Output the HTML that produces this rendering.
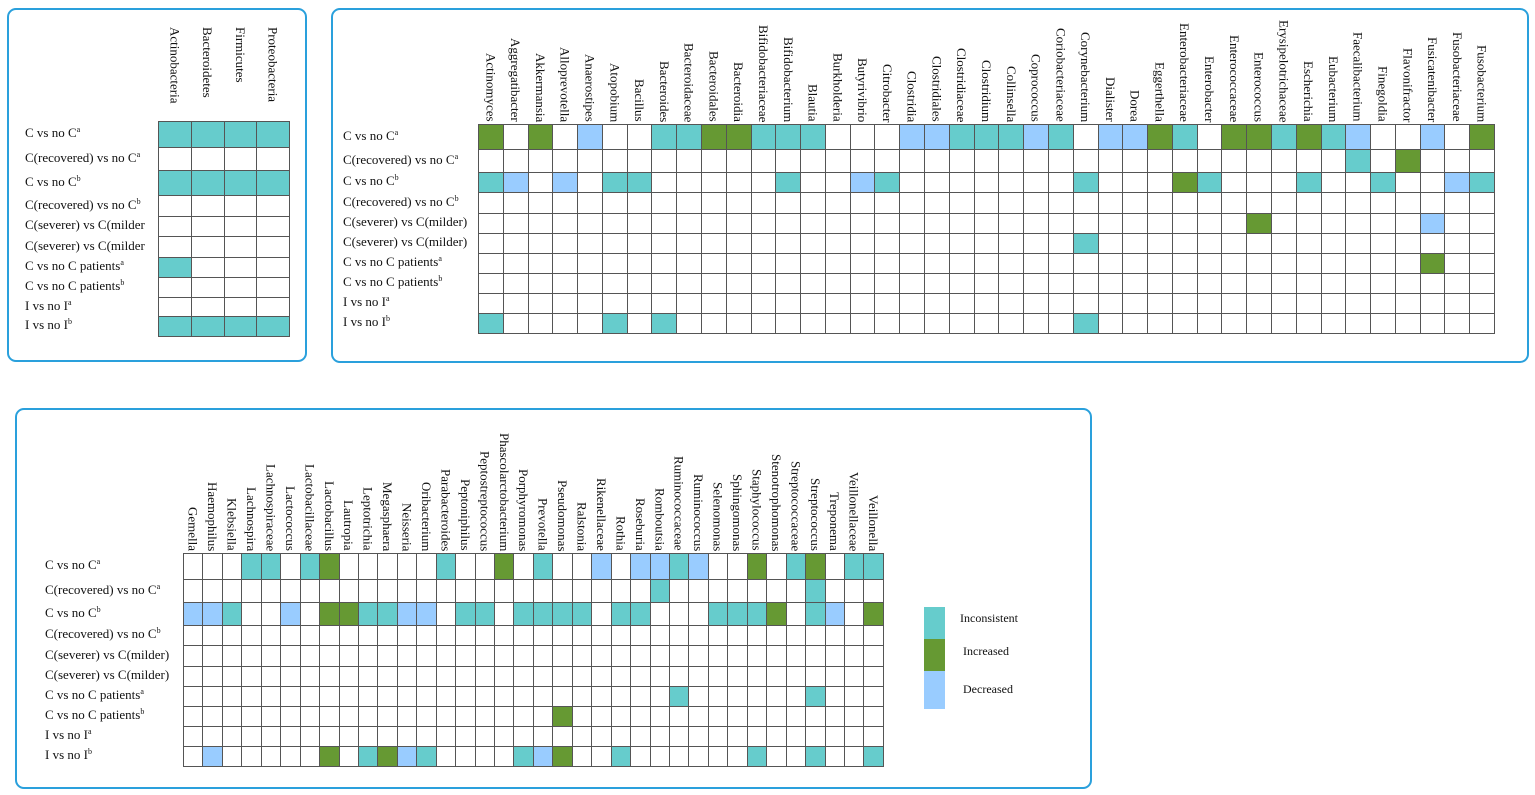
<!DOCTYPE html>
<html><head><meta charset="utf-8">
<style>
html,body{margin:0;padding:0;background:#fff;width:1535px;height:795px;overflow:hidden;position:relative;font-family:"Liberation Serif",serif;color:#111}
.panel{position:absolute;border:2px solid #2aa0dc;border-radius:9px;box-sizing:border-box}
.c{position:absolute;box-sizing:border-box;border:1px solid #555}
.I{background:#66cccc}.G{background:#669933}.D{background:#99ccff}
.rl{position:absolute;font-size:13px;white-space:nowrap;line-height:14px}
.rl sup{font-size:8px;vertical-align:5px;line-height:0}
.cl{position:absolute;font-size:13px;white-space:nowrap;writing-mode:vertical-rl;line-height:14px}
.lg{position:absolute;font-size:12px}
</style></head><body>
<div class="panel" style="left:7px;top:8px;width:300px;height:354px"></div>
<div class="panel" style="left:331px;top:8px;width:1198px;height:355px"></div>
<div class="panel" style="left:15px;top:408px;width:1077px;height:381px"></div>
<div id="root"></div>
<div class="c I" style="left:924px;top:607px;width:21px;height:32px;border:none"></div>
<div class="c G" style="left:924px;top:639px;width:21px;height:32px;border:none"></div>
<div class="c D" style="left:924px;top:671px;width:21px;height:38px;border:none"></div>
<div class="lg" style="left:960px;top:611px">Inconsistent</div>
<div class="lg" style="left:963px;top:644px">Increased</div>
<div class="lg" style="left:963px;top:682px">Decreased</div>
<script>
var root=document.getElementById('root');
function add(h){root.insertAdjacentHTML('beforeend',h);}
var labsA=['C vs no C<sup>a</sup>','C(recovered) vs no C<sup>a</sup>','C vs no C<sup>b</sup>','C(recovered) vs no C<sup>b</sup>','C(severer) vs C(milder','C(severer) vs C(milder','C vs no C patients<sup>a</sup>','C vs no C patients<sup>b</sup>','I vs no I<sup>a</sup>','I vs no I<sup>b</sup>'];
var labsB=labsA.map(function(s,i){return (i==4||i==5)?s+')':s;});
function grid(x0,w,ys,n,data,labs,lx,cols,topAlign,ty){
  for(var r=0;r<10;r++){
    var y=ys[r],h=ys[r+1]-ys[r];
    add('<div class="rl" style="left:'+lx+'px;top:'+(y+h/2-8)+'px">'+labs[r]+'</div>');
    for(var c=0;c<n;c++){
      var cls=(data[r]&&data[r][c])||'';
      var x=Math.round(x0+c*w),x2=Math.round(x0+(c+1)*w);
      add('<div class="c '+cls+'" style="left:'+x+'px;top:'+y+'px;width:'+(x2-x+1)+'px;height:'+(h+1)+'px"></div>');
    }
  }
  for(var c=0;c<n;c++){
    var cx=x0+c*w+w/2-7;
    if(topAlign) add('<div class="cl" style="left:'+cx+'px;top:'+ty+'px">'+cols[c]+'</div>');
    else add('<div class="cl" style="left:'+cx+'px;bottom:'+(795-ys[0]+2)+'px">'+cols[c]+'</div>');
  }
}
function mk(spec){var d={};for(var r in spec){d[r]={};spec[r].split(',').forEach(function(t){var m=t.match(/(\d+)([IGD])/);d[r][+m[1]]=m[2];});}return d;}
// left
grid(158,32.75,[121,147,170,195,216,236,257,277,297,316,336],4,
 mk({0:'0I,1I,2I,3I',2:'0I,1I,2I,3I',6:'0I',9:'0I,1I,2I,3I'}),labsA,25,
 ['Actinobacteria','Bacteroidetes','Firmicutes','Proteobacteria'],true,27);
// right
grid(478,24.78,[124,149,172,192,213,233,253,273,293,313,333],41,
 mk({0:'0G,2G,4D,7I,8I,9G,10G,11I,12I,13I,17D,18D,19I,20I,21I,22D,23I,25D,26D,27G,28I,30G,31G,32I,33G,34I,35D,38D,40G',
     1:'35I,37G',2:'0I,1D,3D,5I,6I,12I,15D,16I,24I,28G,29I,33I,36I,39D,40I',4:'31G,38D',5:'24I',6:'38G',9:'0I,5I,7I,24I'}),labsB,343,
 ['Actinomyces','Aggregatibacter','Akkermansia','Alloprevotella','Anaerostipes','Atopobium','Bacillus','Bacteroides','Bacteroidaceae','Bacteroidales','Bacteroidia','Bifidobacteriaceae','Bifidobacterium','Blautia','Burkholderia','Butyrivibrio','Citrobacter','Clostridia','Clostridiales','Clostridiaceae','Clostridium','Collinsella','Coprococcus','Coriobacteriaceae','Corynebacterium','Dialister','Dorea','Eggerthella','Enterobacteriaceae','Enterobacter','Enterococcaceae','Enterococcus','Erysipelotrichaceae','Escherichia','Eubacterium','Faecalibacterium','Finegoldia','Flavonifractor','Fusicatenibacter','Fusobacteriaceae','Fusobacterium'],false);
// bottom
grid(183,19.44,[553,579,602,625,645,666,686,706,726,746,766],36,
 mk({0:'3I,4I,6I,7G,13I,16G,18I,21D,23D,24D,25I,26D,29G,31I,32G,34I,35I',1:'24I,32I',
     2:'0D,1D,2I,5D,7G,8G,9I,10I,11D,12D,14I,15I,17I,18I,19I,20I,22I,23I,27I,28I,29I,30G,32I,33D,35G',
     6:'25I,32I',7:'19G',9:'1D,7G,9I,10G,11D,12I,17I,18D,19G,22I,29I,32I,35I'}),labsB,45,
 ['Gemella','Haemophilus','Klebsiella','Lachnospira','Lachnospiraceae','Lactococcus','Lactobacillaceae','Lactobacillus','Lautropia','Leptotrichia','Megasphaera','Neisseria','Oribacterium','Parabacteroides','Peptoniphilus','Peptostreptococcus','Phascolarctobacterium','Porphyromonas','Prevotella','Pseudomonas','Ralstonia','Rikenellaceae','Rothia','Roseburia','Romboutsia','Ruminococcaceae','Ruminococcus','Selenomonas','Sphingomonas','Staphylococcus','Stenotrophomonas','Streptococcaceae','Streptococcus','Treponema','Veillonellaceae','Veillonella'],false);
</script>
</body></html>
